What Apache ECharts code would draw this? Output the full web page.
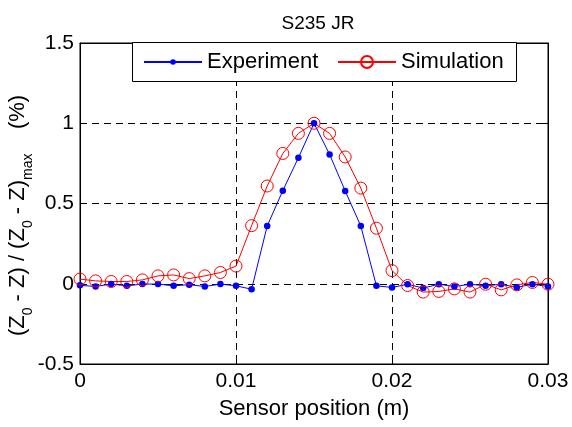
<!DOCTYPE html>
<html>
<head>
<meta charset="utf-8">
<script src="https://cdn.jsdelivr.net/npm/echarts@6/dist/echarts.min.js"></script>
<style>
  html, body { margin: 0; padding: 0; background: #fff; }
  #main { width: 572px; height: 427px; }
</style>
</head>
<body>
<div id="main"></div>
<script>
const positions = [0, 0.001, 0.002, 0.003, 0.004, 0.005, 0.006, 0.007, 0.008, 0.009,
  0.010, 0.011, 0.012, 0.013, 0.014, 0.015, 0.016, 0.017, 0.018, 0.019,
  0.020, 0.021, 0.022, 0.023, 0.024, 0.025, 0.026, 0.027, 0.028, 0.029, 0.030]

const experiment = [-0.010, -0.017, -0.002, -0.013, -0.002, -0.002, -0.013, -0.006, -0.017, -0.002,
  -0.013, -0.034, 0.360, 0.580, 0.785, 1.000, 0.806, 0.578, 0.360, -0.013,
  -0.023, -0.003, -0.027, -0.003, -0.017, -0.003, -0.013, -0.003, -0.023, -0.003, -0.017]

const simulation = [0.029, 0.018, 0.014, 0.014, 0.024, 0.049, 0.055, 0.032, 0.049, 0.070,
  0.110, 0.362, 0.609, 0.812, 0.937, 1.000, 0.937, 0.790, 0.596, 0.346,
  0.082, -0.011, -0.052, -0.048, -0.032, -0.052, -0.003, -0.038, -0.007, 0.008, -0.003]

const xTicks = ['0', '0.01', '0.02', '0.03']

const font = 'Liberation Sans, Arial, sans-serif'
const pairs = arr => positions.map((x, i) => [x, arr[i]])

const boxAxis = (extra) => Object.assign({
  axisLine: { show: true, onZero: false, lineStyle: { color: '#000' } },
  axisTick: { inside: true, length: 5, lineStyle: { color: '#000' } }
}, extra)

const legendText = { fontFamily: font, fontSize: 22, color: '#000', lineHeight: 22 }

const chart = echarts.init(document.getElementById('main'))
chart.setOption({
  animation: false,
  backgroundColor: '#fff',
  title: {
    text: 'S235 JR',
    left: 313, top: 9, textAlign: 'center',
    textStyle: { fontFamily: font, fontSize: 19, fontWeight: 'normal', color: '#000' }
  },
  grid: {
    left: 80, right: 24, top: 43, bottom: 63,
    outerBoundsMode: 'none', containLabel: false,
    show: true, borderColor: '#000', borderWidth: 1
  },
  // legend frame
  graphic: [{
    type: 'rect', z: 50,
    shape: { x: 132.5, y: 42.5, width: 384, height: 39 },
    style: { fill: '#fff', stroke: '#000', lineWidth: 1 }
  }],
  legend: [{
    left: 143, top: 51, padding: 0, z: 60,
    itemWidth: 58, itemHeight: 7,
    textStyle: legendText,
    data: ['Experiment']
  }, {
    left: 337, top: 51, padding: 0, z: 60,
    itemWidth: 58, itemHeight: 15,
    textStyle: legendText,
    data: ['Simulation']
  }],
  xAxis: [boxAxis({
    type: 'value', min: 0, max: 0.03, interval: 0.01,
    name: 'Sensor position (m)', nameLocation: 'middle', nameGap: 34,
    nameMoveOverlap: false,
    nameTextStyle: { fontFamily: font, fontSize: 22, color: '#000' },
    axisLabel: {
      fontFamily: font, fontSize: 21, color: '#000', margin: 7,
      formatter: (v) => xTicks[Math.round(v / 0.01)]
    },
    splitLine: { show: true, lineStyle: { color: '#000', type: [7, 5], width: 1 } }
  }), boxAxis({
    type: 'value', min: 0, max: 0.03, interval: 0.01, position: 'top',
    axisLabel: { show: false }, splitLine: { show: false }
  })],
  yAxis: [boxAxis({
    type: 'value', min: -0.5, max: 1.5, interval: 0.5,
    name: '(Z{sub|0} - Z) / (Z{sub|0} - Z){sub|max}    (%)',
    nameLocation: 'middle', nameGap: 45, nameRotate: 90,
    nameMoveOverlap: false,
    nameTextStyle: {
      fontFamily: font, fontSize: 22, color: '#000', lineHeight: 34,
      padding: [0, 24, 0, 0],
      rich: {
        sub: { fontFamily: font, fontSize: 14, color: '#000', verticalAlign: 'bottom', lineHeight: 8 }
      }
    },
    axisLabel: { fontFamily: font, fontSize: 21, color: '#000', margin: 6 },
    splitLine: { show: true, lineStyle: { color: '#000', type: [7, 5], width: 1 } }
  }), boxAxis({
    type: 'value', min: -0.5, max: 1.5, interval: 0.5, position: 'right',
    axisLabel: { show: false }, splitLine: { show: false }
  })],
  series: [{
    name: 'Experiment', type: 'line',
    data: pairs(experiment),
    symbol: 'circle', symbolSize: 6.5,
    lineStyle: { color: '#0000ff', width: 1 },
    itemStyle: { color: '#0000ff' }
  }, {
    name: 'Simulation', type: 'line',
    data: pairs(simulation),
    symbol: 'circle', symbolSize: 12,
    lineStyle: { color: '#ff0000', width: 1 },
    itemStyle: { color: 'rgba(0,0,0,0)', borderColor: '#ff0000', borderWidth: 1 }
  }]
})
</script>
</body>
</html>
